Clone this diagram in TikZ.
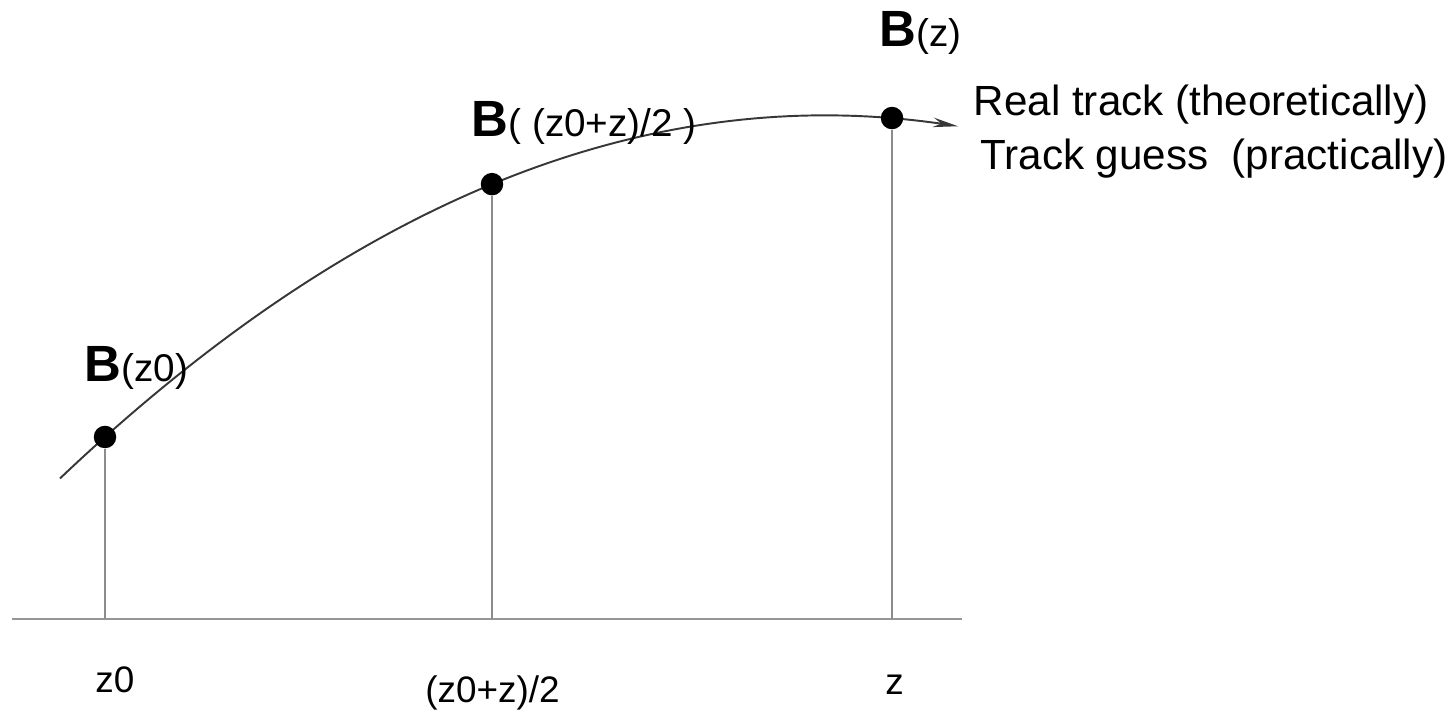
\documentclass[tikz,border=0pt]{standalone}
\usepackage{fontspec}
\setmainfont{Liberation Sans}
\usepackage{xcolor}
\usepackage{tikz}
\usetikzlibrary{arrows.meta, positioning, calc}
\definecolor{axisgray}{RGB}{150,150,150}
\definecolor{dropgray}{RGB}{140,140,140}
\definecolor{trackgray}{RGB}{55,55,55}
\newcommand{\bigB}{{\fontsize{29}{29}\selectfont\bfseries B}}

\begin{document}
\begin{tikzpicture}[
  track/.style={draw=trackgray, line width=1.1pt, -{Stealth[length=5mm, width=1.9mm]}},
  pt/.style={circle, fill=black, inner sep=0pt, minimum size=4.5mm},
  drop/.style={draw=dropgray, line width=0.7pt},
  axis/.style={draw=axisgray, line width=1.4pt},
  blbl/.style={anchor=base west, inner sep=0pt, font=\fontsize{22}{26}\selectfont},
  txt/.style={anchor=base west, inner sep=0pt, font=\fontsize{24}{28}\selectfont},
  ticklbl/.style={anchor=base west, inner sep=0pt, font=\fontsize{21}{25}\selectfont}
]
  \useasboundingbox (0,0) rectangle (28.96,14.24);

  \coordinate (axl) at (0.24,1.86);
  \coordinate (axr) at (19.24,1.86);
  \draw[axis] (axl) -- (axr);

  % track through the three sample points
  \draw[track] plot[domain=1.2:19.16, samples=80] (\x,{3.488+1.0234*\x-0.031*\x*\x});

  \node[pt] (p0) at (2.1,5.5) {};
  \node[pt] (p1) at (9.84,10.557) {};
  \node[pt] (p2) at (17.84,11.879) {};

  \draw[drop] (p0.south) -- (p0 |- axl);
  \draw[drop] (p1.south) -- (p1 |- axl);
  \draw[drop] (p2.south) -- (p2 |- axl);

  \node[blbl] (bz0) at (1.69,6.6) {\bigB(z0)};
  \node[blbl] (bmid) at (9.43,11.5) {\bigB( (z0+z)/2 )};
  \node[blbl] (bz) at (17.59,13.3) {\bigB(z)};

  \node[txt] (real) at (19.47,11.92) {Real track (theoretically)};
  \node[txt] (guess) at (19.6,10.84) {Track guess~ (practically)};

  \node[ticklbl] (tz0) at (1.9,0.38) {z0};
  \node[ticklbl] (tmid) at (8.5,0.18) {(z0+z)/2};
  \node[ticklbl] (tz) at (17.7,0.34) {z};
\end{tikzpicture}
\end{document}
